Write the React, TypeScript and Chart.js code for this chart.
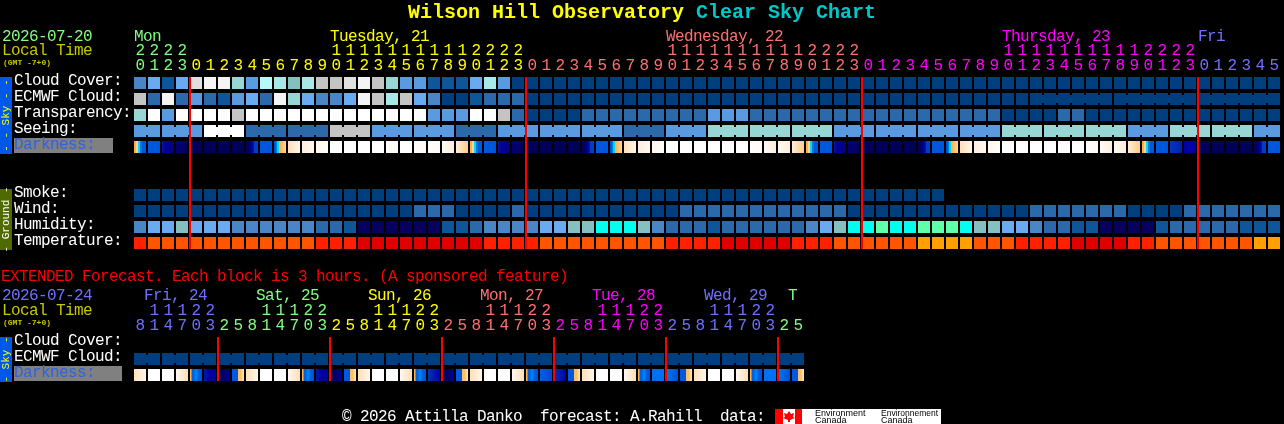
import React, { useEffect, useRef } from "react";
import { Chart, registerables } from "chart.js";

Chart.register(...registerables);

const MONO = '"Liberation Mono", monospace';
const TEXT_SIZE = 16;
const TEXT_SPACING = "-0.6px";
const GREEN = "#80ff80";
const YELLOW = "#ffff00";
const PINK = "#ff7070";
const MAGENTA = "#ff00ff";
const PERIWINKLE = "#7070ff";
const OLIVE_TEXT = "#c8c800";

// Shared colour scale of the sky rows
const skyPalette = ["#003e7e", "#0f559a", "#2b69aa", "#4a86c6", "#5a9ae0", "#6aaaf0", "#85c0c0", "#98d6d6", "#a8e8e8", "#b8f8f8", "#c4c4c4", "#e0e0e0", "#f4f4f4", "#ffffff", "#00ffee", "#60ffaa", "#07005f"];
const tempPalette = ["#e00000", "#ff2000", "#ff5500", "#ffa000"];

const hourLabels = [20,21,22,23,0,1,2,3,4,5,6,7,8,9,10,11,12,13,14,15,16,17,18,19,20,21,22,23,0,1,2,3,4,5,6,7,8,9,10,11,12,13,14,15,16,17,18,19,20,21,22,23,0,1,2,3,4,5,6,7,8,9,10,11,12,13,14,15,16,17,18,19,20,21,22,23,0,1,2,3,4,5];
const dayLabels = ["Mon", "Tuesday, 21", "Wednesday, 22", "Thursday, 23", "Fri"];
const dayLabelCols = [0, 14, 38, 62, 76];
const dayFirstCols = [0, 4, 28, 52, 76];
const dayColors = [GREEN, YELLOW, PINK, MAGENTA, PERIWINKLE];
const midnightCols = [4, 28, 52, 76];

const rowLabels = ["Cloud Cover:", "ECMWF Cloud:", "Transparency:", "Seeing:", "Darkness:", "", "", "Smoke:", "Wind:", "Humidity:", "Temperature:"];

const cloudCover = [3,5,1,5,11,12,12,7,4,9,8,6,8,10,10,11,12,10,7,4,4,1,1,1,5,8,4,0,0,0,0,0,0,0,0,0,0,0,0,0,0,0,0,0,0,0,0,0,0,0,0,0,0,0,0,0,0,0,0,0,0,0,0,0,0,0,0,0,0,0,0,0,0,0,0,0,0,0,0,0,0,0];
const ecmwfCloud = [10,2,12,2,4,2,1,4,5,2,12,7,5,3,3,5,12,10,8,10,5,3,0,0,1,2,2,2,0,0,0,0,0,0,0,0,0,0,0,0,0,0,0,0,0,0,0,0,0,0,0,0,0,0,0,0,0,0,0,0,0,0,0,0,0,0,0,0,0,0,0,0,0,0,0,0,0,0,0,0,0,0];
const transparency = [7,13,4,13,13,13,13,10,13,13,13,13,13,13,13,13,13,13,13,13,13,4,4,4,13,13,10,2,0,0,0,0,2,2,2,2,2,2,2,2,2,4,4,4,2,2,2,2,2,2,2,2,2,2,2,2,2,2,2,2,2,2,0,0,0,0,2,2,0,0,0,0,0,0,0,0,0,0,0,0,0,0];
const seeing = [4,4,4,4,4,13,13,13,2,2,2,2,2,2,10,10,10,4,4,4,4,4,4,2,2,2,4,4,4,4,4,4,4,4,4,2,2,2,4,4,4,7,7,7,7,7,7,7,7,7,4,4,4,4,4,4,4,4,4,4,4,4,7,7,7,7,7,7,7,7,7,4,4,4,7,7,7,7,7,7,4,4];
const darkness = [5,4,2,1,0,0,0,0,3,4,6,7,8,9,10,10,10,10,11,10,11,11,12,13,5,4,2,1,0,0,0,0,3,4,6,7,8,9,10,10,10,10,10,10,11,12,12,13,5,4,2,1,0,0,0,0,3,4,6,7,8,9,10,10,10,10,10,10,11,12,12,13,5,4,14,15,0,0,0,0,3,4];
const smoke = [0,0,0,0,0,0,0,0,0,0,0,0,0,0,0,0,0,0,0,0,0,0,0,0,0,0,0,0,0,0,0,0,0,0,0,0,0,0,0,0,0,0,0,0,0,0,0,0,0,0,0,0,0,0,0,0,0,0];
const wind = [0,0,0,0,0,0,0,0,0,0,0,0,0,0,0,0,0,0,0,0,2,2,2,0,0,0,0,2,0,0,0,0,0,0,0,0,0,0,0,2,2,2,2,2,2,2,2,2,2,2,2,0,0,0,0,0,0,0,0,0,0,0,0,0,2,2,2,2,2,2,2,0,0,0,0,2,2,2,2,2,2,2];
const humidity = [3,5,5,6,5,5,5,3,3,3,3,3,3,2,2,1,16,16,16,16,16,16,1,1,2,3,3,3,3,5,5,6,6,14,14,14,6,3,2,2,2,1,2,2,2,2,2,2,3,5,6,14,14,15,14,14,15,15,15,14,6,6,5,5,3,2,2,1,1,16,16,16,16,1,2,2,2,2,2,1,1,1];
const temperature = [1,2,2,2,2,2,2,2,2,2,2,2,2,1,1,1,0,0,0,0,0,0,0,0,0,1,1,1,1,2,2,2,2,2,2,2,2,2,1,1,1,1,0,0,0,0,0,1,1,1,2,2,2,2,2,2,3,3,3,3,2,2,2,1,1,1,1,0,0,0,0,1,1,2,2,2,2,2,2,2,3,3];

// Extended forecast
const extHourLabels = [8,11,14,17,20,23,2,5,8,11,14,17,20,23,2,5,8,11,14,17,20,23,2,5,8,11,14,17,20,23,2,5,8,11,14,17,20,23,2,5,8,11,14,17,20,23,2,5];
const extDayLabels = ["Fri, 24", "Sat, 25", "Sun, 26", "Mon, 27", "Tue, 28", "Wed, 29", "T"];
const extDayLabelCols = [0, 8, 16, 24, 32, 40, 46];
const extDayFirstCols = [0, 6, 14, 22, 30, 38, 46];
const extDayColors = [PERIWINKLE, GREEN, YELLOW, PINK, MAGENTA, PERIWINKLE, GREEN];
const extMidnightCols = [6, 14, 22, 30, 38, 46];
const extRowLabels = ["Cloud Cover:", "ECMWF Cloud:", "Darkness:"];
const extEcmwfCloud = [0,0,0,0,0,0,0,0,0,0,0,0,0,0,0,0,0,0,0,0,0,0,0,0,0,0,0,0,0,0,0,0,0,0,0,0,0,0,0,0,0,0,0,0,0,0,0,0];
const extDarkness = [7,10,10,20,16,18,19,17,7,10,10,20,16,18,19,17,7,10,10,20,16,22,19,17,7,10,10,20,16,21,22,17,7,10,10,20,16,23,24,17,7,10,10,20,16,23,24,17];

// Horizontal colour ramps of the darkness cells, looked up by darkness value
const darknessRamps: [number, string][][] = [
  [[0, "#00005a"], [1, "#00005a"]],
  [[0, "#000072"], [1, "#000060"]],
  [[0, "#0014a8"], [0.3, "#000098"], [1, "#000078"]],
  [[0, "#000058"], [0.33, "#000070"], [0.5, "#0000a0"], [0.66, "#0018a8"], [0.67, "#0040c0"], [1, "#0040c0"]],
  [[0, "#0058e0"], [1, "#0054dc"]],
  [[0, "#ffb040"], [0.17, "#ffb040"], [0.18, "#ffd090"], [0.33, "#ffd090"], [0.34, "#00d8ff"], [0.5, "#00d8ff"], [0.51, "#0080e0"], [0.66, "#0070e0"], [0.67, "#0058d8"], [1, "#0058d8"]],
  [[0, "#0058d8"], [0.16, "#0058d8"], [0.17, "#0080e0"], [0.25, "#0080e0"], [0.26, "#00d8ff"], [0.41, "#00d8ff"], [0.42, "#ffa838"], [0.58, "#ffb850"], [1, "#ffd898"]],
  [[0, "#ffe0b8"], [1, "#fff6ea"]],
  [[0, "#ffeedd"], [1, "#fff8f0"]],
  [[0, "#fff6ec"], [1, "#fffdf8"]],
  [[0, "#ffffff"], [1, "#ffffff"]],
  [[0, "#fffefc"], [1, "#fffaf4"]],
  [[0, "#fffaf2"], [1, "#ffeedc"]],
  [[0, "#ffeed8"], [1, "#ffc888"]],
  [[0, "#0036c4"], [1, "#0020b0"]],
  [[0, "#0000ac"], [1, "#0000a0"]],
  [[0, "#ffb040"], [0.12, "#ffb040"], [0.13, "#0060e0"], [0.3, "#0060e0"], [0.5, "#0088f0"], [0.7, "#0060e0"], [1, "#0050d0"]],
  [[0, "#0058e0"], [0.5, "#0058e0"], [0.51, "#ffc060"], [0.7, "#ffc060"], [1, "#ffe8c8"]],
  [[0, "#0018a8"], [0.5, "#0000a0"], [1, "#000090"]],
  [[0, "#000050"], [0.5, "#000068"], [1, "#00008c"]],
  [[0, "#fff8f0"], [1, "#ffdcb8"]],
  [[0, "#0060e0"], [1, "#0048d0"]],
  [[0, "#0034b4"], [1, "#0000a0"]],
  [[0, "#0070f0"], [1, "#0070f0"]],
  [[0, "#0078f0"], [1, "#0050d0"]],
];

const CELL_HALF = 0.375;
const BRIDGE_HALF = 0.25;

function cellDataset(values: number[], row: number, palette: string[]) {
  return {
    data: values.map((_, col) => ({ x: col, y: [row - CELL_HALF, row + CELL_HALF] })),
    backgroundColor: values.map((v) => palette[v]),
    barThickness: 12,
  };
}

function bridgeDataset(values: number[], row: number, palette: string[], joined: (col: number) => boolean) {
  const cols = values.map((_, col) => col).filter((col) => col < values.length - 1 && joined(col));
  return {
    data: cols.map((col) => ({ x: col + 0.5, y: [row - BRIDGE_HALF, row + BRIDGE_HALF] })),
    backgroundColor: cols.map((col) => palette[values[col]]),
    barThickness: 2,
  };
}

function darknessDataset(values: number[], row: number) {
  return {
    data: values.map((_, col) => ({ x: col, y: [row - CELL_HALF, row + CELL_HALF] })),
    barThickness: 12,
    backgroundColor: (c: any) => {
      if (c.type !== "data") return "#000";
      const px = c.chart.scales.x.getPixelForValue(c.dataIndex);
      if (!Number.isFinite(px)) return "#000";
      const g = c.chart.ctx.createLinearGradient(px - 6, 0, px + 6, 0);
      darknessRamps[values[c.dataIndex]].forEach(([p, col]) => g.addColorStop(p, col));
      return g;
    },
  };
}

function label(ctx: CanvasRenderingContext2D, text: string, x: number, y: number, font: string, color: string) {
  ctx.font = font;
  ctx.fillStyle = color;
  ctx.textAlign = "left";
  ctx.textBaseline = "alphabetic";
  ctx.fillText(text, x, y);
}

function sideStrip(ctx: CanvasRenderingContext2D, top: number, bottom: number, fill: string, text: string, color: string) {
  ctx.fillStyle = fill;
  ctx.fillRect(0, top, 12, bottom - top);
  ctx.save();
  (ctx as any).letterSpacing = "0px";
  ctx.translate(6, (top + bottom) / 2);
  ctx.rotate(-Math.PI / 2);
  ctx.font = `11px ${MONO}`;
  ctx.fillStyle = color;
  ctx.textAlign = "center";
  ctx.textBaseline = "middle";
  ctx.fillText(text, 0, 0);
  ctx.restore();
}

function hourTick(h: number): string[] {
  return h >= 10 ? [String(h)[0], String(h)[1]] : ["", String(h)];
}

function dayColor(col: number, firsts: number[], colors: string[]) {
  let k = 0;
  firsts.forEach((f, i) => { if (col >= f) k = i; });
  return colors[k];
}

function panelOptions(p: {
  hours: number[]; rows: string[]; firsts: number[]; colors: string[];
  axisHeight: number; bottom: number; right: number;
}) {
  return {
    responsive: false,
    animation: false as const,
    devicePixelRatio: 1,
    events: [],
    layout: { padding: { left: 14, right: p.right, top: 0, bottom: p.bottom } },
    plugins: { legend: { display: false }, tooltip: { enabled: false }, title: { display: false } },
    datasets: { bar: { grouped: false, borderWidth: 0, borderSkipped: false, inflateAmount: 0 } },
    scales: {
      x: {
        type: "linear",
        position: "top",
        offset: false,
        min: -0.5,
        max: p.hours.length - 0.5,
        grid: { display: false, drawTicks: false },
        border: { display: false },
        afterBuildTicks: (s: any) => { s.ticks = p.hours.map((_, i) => ({ value: i })); },
        afterFit: (s: any) => { s.height = p.axisHeight; s.paddingLeft = 0; s.paddingRight = 0; },
        ticks: {
          autoSkip: false,
          maxRotation: 0,
          minRotation: 0,
          padding: 2,
          font: { family: MONO, size: TEXT_SIZE, lineHeight: "15px" },
          color: (c: any) => dayColor(c.index, p.firsts, p.colors),
          callback: (v: any) => hourTick(p.hours[v]),
        },
      },
      y: {
        type: "linear",
        reverse: true,
        min: -0.5,
        max: p.rows.length - 0.5,
        grid: { display: false, drawTicks: false },
        border: { display: false },
        afterBuildTicks: (s: any) => { s.ticks = p.rows.map((_, i) => ({ value: i })); },
        afterFit: (s: any) => { s.width = 119; s.paddingTop = 0; s.paddingBottom = 0; },
        ticks: {
          autoSkip: false,
          crossAlign: "far",
          padding: 0,
          font: { family: MONO, size: TEXT_SIZE, lineHeight: "4px" },
          color: (c: any) => (p.rows[c.index] === "Darkness:" ? "#2f62e0" : "#ffffff"),
          // the blank second line lifts each label to sit level with the reference text
          callback: (v: any) => [p.rows[v], ""],
        },
      },
    },
  };
}

function redLines(chart: any, cols: number[], firstRow: number, lastRow: number) {
  const { x, y } = chart.scales;
  const c = chart.ctx;
  const top = y.getPixelForValue(firstRow - CELL_HALF);
  const bottom = y.getPixelForValue(lastRow + CELL_HALF);
  c.fillStyle = "#ff0000";
  cols.forEach((col) => c.fillRect(x.getPixelForValue(col - 0.5), top, 2, bottom - top));
}

const mainPlugin = {
  id: "mainDecor",
  beforeDraw(chart: any) {
    const c = chart.ctx as any;
    const { x, y } = chart.scales;
    const body = `${TEXT_SIZE}px ${MONO}`;
    c.save();
    c.fillStyle = "#000";
    c.fillRect(0, 0, chart.width, chart.height);
    // Title
    c.letterSpacing = "0px";
    label(c, "Wilson Hill Observatory", 408, 18, `bold 20px ${MONO}`, YELLOW);
    label(c, "Clear Sky Chart", 696, 18, `bold 20px ${MONO}`, "#00c8c8");
    label(c, "(GMT -7+0)", 3, 65, `bold 8px ${MONO}`, OLIVE_TEXT);
    // Header
    c.letterSpacing = TEXT_SPACING;
    label(c, "2026-07-20", 2, 41, body, GREEN);
    label(c, "Local Time", 2, 55, body, OLIVE_TEXT);
    dayLabels.forEach((t, i) => {
      label(c, t, x.getPixelForValue(dayLabelCols[i]) - 6, 41, body, dayColors[i]);
    });
    // Left decor
    sideStrip(c, 77, 154, "#0058e8", "- - Sky - -", YELLOW);
    sideStrip(c, 189, 250, "#4f6a00", "- Ground -", "#ffffff");
    c.fillStyle = "#808080";
    c.fillRect(14, y.getPixelForValue(4) - 9, 99, 15);
    // Footer and extended heading
    label(c, "EXTENDED Forecast. Each block is 3 hours. (A sponsored feature)", 1, 281, body, "#ff0000");
    label(c, "\u00a9 2026 Attilla Danko  forecast: A.Rahill  data:", 342, 421, body, "#ffffff");
    // Environment Canada logo
    c.letterSpacing = "0px";
    c.fillStyle = "#ffffff";
    c.fillRect(775, 409, 166, 15);
    c.fillStyle = "#ff0000";
    c.fillRect(775, 409, 8, 15);
    c.fillRect(795, 409, 7, 15);
    c.beginPath();
    [[789, 411], [791, 414], [794, 413], [793, 417], [795, 418], [790, 420], [790, 422], [788, 422], [788, 420], [783, 418], [785, 417], [784, 413], [787, 414]].forEach(([px, py], i) => (i ? c.lineTo(px, py) : c.moveTo(px, py)));
    c.closePath();
    c.fill();
    label(c, "Environment", 815, 416, `9px "Liberation Sans"`, "#000000");
    label(c, "Canada", 815, 423, `9px "Liberation Sans"`, "#000000");
    label(c, "Environnement", 881, 416, `8.5px "Liberation Sans"`, "#000000");
    label(c, "Canada", 881, 423, `9px "Liberation Sans"`, "#000000");
    c.restore();
    c.letterSpacing = TEXT_SPACING;
  },
  afterDatasetsDraw(chart: any) {
    const c = chart.ctx;
    c.save();
    redLines(chart, midnightCols, 0, 10);
    c.restore();
  },
};

const extPlugin = {
  id: "extDecor",
  beforeDraw(chart: any) {
    const c = chart.ctx as any;
    const { x, y } = chart.scales;
    const body = `${TEXT_SIZE}px ${MONO}`;
    c.save();
    c.letterSpacing = "0px";
    label(c, "(GMT -7+0)", 3, 325, `bold 8px ${MONO}`, OLIVE_TEXT);
    c.letterSpacing = TEXT_SPACING;
    label(c, "2026-07-24", 2, 300, body, PERIWINKLE);
    label(c, "Local Time", 2, 315, body, OLIVE_TEXT);
    extDayLabels.forEach((t, i) => {
      label(c, t, x.getPixelForValue(extDayLabelCols[i]) + 4, 300, body, extDayColors[i]);
    });
    sideStrip(c, 337, 382, "#0058e8", "- Sky -", YELLOW);
    c.fillStyle = "#808080";
    c.fillRect(14, y.getPixelForValue(2) - 9, 108, 15);
    c.restore();
    c.letterSpacing = TEXT_SPACING;
  },
  afterDatasetsDraw(chart: any) {
    const c = chart.ctx;
    c.save();
    redLines(chart, extMidnightCols, 0, 2);
    c.restore();
  },
};

export default function App() {
  const mainRef = useRef<HTMLCanvasElement>(null);
  const extRef = useRef<HTMLCanvasElement>(null);

  useEffect(() => {
    document.body.style.margin = "0";
    document.body.style.background = "#000";

    const main = new Chart(mainRef.current!, {
      type: "bar",
      data: {
        datasets: [
          cellDataset(cloudCover, 0, skyPalette),
          cellDataset(ecmwfCloud, 1, skyPalette),
          bridgeDataset(ecmwfCloud, 1, skyPalette, (col) => col >= 64 && (col - 64) % 6 !== 5),
          cellDataset(transparency, 2, skyPalette),
          cellDataset(seeing, 3, skyPalette),
          bridgeDataset(seeing, 3, skyPalette, (col) => col % 3 !== 1),
          darknessDataset(darkness, 4),
          cellDataset(smoke, 7, skyPalette),
          cellDataset(wind, 8, skyPalette),
          cellDataset(humidity, 9, skyPalette),
          cellDataset(temperature, 10, tempPalette),
        ],
      },
      options: panelOptions({ hours: hourLabels, rows: rowLabels, firsts: dayFirstCols, colors: dayColors, axisHeight: 75, bottom: 173, right: 3 }) as any,
      plugins: [mainPlugin],
    } as any);

    const ext = new Chart(extRef.current!, {
      type: "bar",
      data: {
        datasets: [
          cellDataset(extEcmwfCloud, 1, skyPalette),
          bridgeDataset(extEcmwfCloud, 1, skyPalette, (col) => col % 2 === 0),
          darknessDataset(extDarkness, 2),
        ],
      },
      options: panelOptions({ hours: extHourLabels, rows: extRowLabels, firsts: extDayFirstCols, colors: extDayColors, axisHeight: 335, bottom: 41, right: 1284 - 133 - 48 * 14 }) as any,
      plugins: [extPlugin],
    } as any);

    return () => {
      main.destroy();
      ext.destroy();
    };
  }, []);

  const canvasStyle: React.CSSProperties = { position: "absolute", left: 0, top: 0, display: "block" };
  return (
    <div style={{ position: "absolute", left: 0, top: 0, width: 1284, height: 424, background: "#000", overflow: "hidden" }}>
      <canvas ref={mainRef} width={1284} height={424} style={canvasStyle} />
      <canvas ref={extRef} width={1284} height={424} style={canvasStyle} />
    </div>
  );
}
